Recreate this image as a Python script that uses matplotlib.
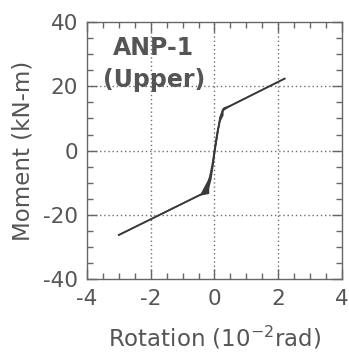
import matplotlib
matplotlib.use("Agg")
import matplotlib.pyplot as plt
from matplotlib.ticker import MultipleLocator

# Hysteresis trace (rotation in 1e-2 rad, moment in kN-m)
rot_load = [-3.0, -0.45, -0.22, -0.12, -0.04, 0.02, 0.10, 0.18, 0.26, 0.26, 0.49, 2.2]
mom_load = [-26.3, -13.8, -12.8, -9.0, -4.0, 1.0, 6.0, 9.5, 11.0, 12.8, 13.9, 22.4]
rot_unload = [2.2, 0.49, 0.30, 0.18, 0.08, 0.0, -0.06, -0.14, -0.19, -0.19, -0.45, -3.0]
mom_unload = [22.4, 13.9, 13.2, 10.5, 5.0, 0.0, -4.0, -8.0, -9.7, -13.3, -13.8, -26.3]
rot_inner = [-0.45, -0.30, -0.20, -0.08, 0.0, 0.08, 0.16, 0.24, 0.49]
mom_inner = [-13.8, -13.0, -11.0, -6.0, -1.0, 4.0, 9.0, 12.3, 13.9]

xticks = [-4, -2, 0, 2, 4]
yticks = [-40, -20, 0, 20, 40]

plt.rcParams['font.family'] = ['DejaVu Sans']
plt.rcParams['axes.unicode_minus'] = False
txt = '#555555'
fig = plt.figure(figsize=(3.49, 3.57), dpi=100)
ax = fig.add_axes([0.249, 0.2185, 0.731, 0.7195])

lc = '#3a3a3a'
ax.plot(rot_load, mom_load, color=lc, lw=1.2)
ax.plot(rot_unload, mom_unload, color=lc, lw=1.2)
ax.plot(rot_inner, mom_inner, color=lc, lw=1.0)
ax.fill(rot_load[7:11] + rot_inner[-3:][::-1], mom_load[7:11] + mom_inner[-3:][::-1], color=lc, lw=0)
ax.fill(rot_unload[7:11] + rot_inner[:3][::-1], mom_unload[7:11] + mom_inner[:3][::-1], color=lc, lw=0)

ax.set_xlim(-4, 4)
ax.set_ylim(-40, 40)
ax.set_xticks(xticks)
ax.set_yticks(yticks)
ax.xaxis.set_minor_locator(MultipleLocator(0.5))
ax.yaxis.set_minor_locator(MultipleLocator(5))
ax.tick_params(which='both', direction='in', top=True, right=True, colors='#666666', labelcolor=txt)
ax.tick_params(which='major', length=7, width=1.0, labelsize=15.5)
ax.tick_params(axis='y', which='major', pad=6.5)
ax.tick_params(axis='x', which='major', pad=7)
ax.tick_params(which='minor', length=4, width=1.0)
for s in ax.spines.values():
    s.set_color('#666666')
    s.set_linewidth(1.0)
for v in [-2, 0, 2]:
    ax.axvline(v, color='#707070', lw=1.0, ls=(0, (1, 2)), zorder=0)
for v in [-20, 0, 20]:
    ax.axhline(v, color='#707070', lw=1.0, ls=(0, (1, 2)), zorder=0)

ax.set_xlabel('Rotation (10$^{-2}$rad)', fontsize=16.5, color=txt, labelpad=11)
ax.set_ylabel('Moment (kN-m)', fontsize=16.5, color=txt, labelpad=6)
ax.text(0.262, 0.90, 'ANP-1', transform=ax.transAxes, fontsize=17, fontweight='bold',
        color=txt, ha='center', va='center')
ax.text(0.265, 0.775, '(Upper)', transform=ax.transAxes, fontsize=17, fontweight='bold',
        color=txt, ha='center', va='center')

fig.savefig('out.png', dpi=100)
